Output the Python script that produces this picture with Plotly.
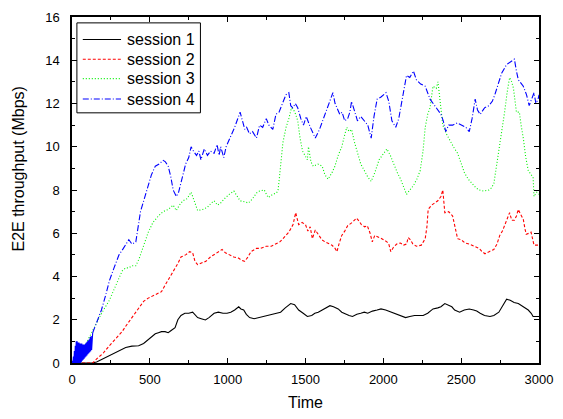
import plotly.graph_objects as go

# ---- session 1 (black, solid)
t1 = [0, 100, 130, 158, 200, 240, 280, 322, 345, 385, 428, 460, 490, 511, 535, 555, 575, 598, 618, 637, 662, 680, 700, 725, 750, 775, 790, 807, 830, 857, 880, 913, 940, 970, 996, 1020, 1045, 1071, 1085, 1103, 1120, 1141, 1170, 1200, 1229, 1260, 1290, 1311, 1340, 1370, 1405, 1430, 1456, 1485, 1512, 1540, 1560, 1582, 1610, 1635, 1657, 1680, 1710, 1733, 1760, 1780, 1802, 1830, 1855, 1878, 1900, 1930, 1960, 1985, 2015, 2048, 2070, 2100, 2120, 2143, 2170, 2200, 2230, 2256, 2285, 2319, 2350, 2370, 2395, 2420, 2440, 2458, 2475, 2490, 2520, 2552, 2580, 2600, 2622, 2650, 2685, 2710, 2742, 2765, 2792, 2815, 2840, 2867, 2900, 2931, 2950, 2962, 2994, 3000]
s1 = [0, 0, 0.0, 0.05, 0.2, 0.32, 0.5, 0.63, 0.72, 0.78, 0.8, 0.9, 1.08, 1.22, 1.35, 1.4, 1.45, 1.45, 1.4, 1.5, 1.63, 2.0, 2.2, 2.3, 2.3, 2.35, 2.25, 2.1, 2.05, 1.99, 2.1, 2.3, 2.35, 2.3, 2.3, 2.35, 2.45, 2.6, 2.5, 2.45, 2.25, 2.1, 2.05, 2.1, 2.15, 2.2, 2.25, 2.3, 2.35, 2.55, 2.75, 2.7, 2.45, 2.3, 2.15, 2.2, 2.3, 2.35, 2.45, 2.55, 2.65, 2.6, 2.5, 2.35, 2.25, 2.2, 2.15, 2.25, 2.3, 2.35, 2.3, 2.4, 2.45, 2.5, 2.45, 2.35, 2.3, 2.2, 2.15, 2.1, 2.15, 2.2, 2.2, 2.2, 2.3, 2.5, 2.55, 2.6, 2.75, 2.65, 2.6, 2.45, 2.4, 2.35, 2.45, 2.5, 2.45, 2.4, 2.3, 2.2, 2.15, 2.2, 2.35, 2.6, 2.95, 2.9, 2.8, 2.75, 2.6, 2.45, 2.3, 2.15, 2.15, 2.15]

# ---- session 2 (red, dashed)
t2 = [0, 60, 100, 133, 160, 200, 240, 280, 322, 345, 385, 428, 460, 490, 530, 555, 575, 598, 618, 650, 680, 700, 730, 756, 775, 790, 807, 840, 860, 889, 910, 935, 964, 985, 1010, 1040, 1070, 1090, 1109, 1130, 1150, 1185, 1210, 1248, 1280, 1311, 1335, 1355, 1375, 1393, 1420, 1437, 1456, 1478, 1500, 1515, 1530, 1544, 1563, 1585, 1605, 1626, 1650, 1670, 1690, 1702, 1715, 1733, 1752, 1771, 1800, 1828, 1845, 1859, 1880, 1897, 1915, 1929, 1945, 1960, 1990, 2023, 2035, 2048, 2065, 2086, 2110, 2130, 2149, 2160, 2174, 2190, 2212, 2244, 2269, 2280, 2288, 2310, 2332, 2350, 2370, 2382, 2395, 2420, 2445, 2460, 2477, 2500, 2525, 2552, 2585, 2616, 2635, 2653, 2680, 2710, 2730, 2748, 2765, 2779, 2795, 2811, 2825, 2842, 2855, 2867, 2880, 2899, 2910, 2918, 2935, 2949, 2960, 2968, 2994, 3000]
s2 = [0, 0, 0, 0.0, 0.2, 0.45, 0.8, 1.1, 1.45, 1.7, 2.1, 2.5, 2.85, 3.0, 3.15, 3.25, 3.3, 3.6, 3.85, 4.2, 4.6, 4.9, 5.0, 5.15, 5.1, 4.7, 4.55, 4.65, 4.7, 4.9, 5.0, 5.15, 5.25, 5.1, 5.0, 4.9, 4.85, 4.75, 4.7, 4.9, 5.15, 5.3, 5.3, 5.4, 5.4, 5.5, 5.6, 5.75, 5.9, 6.05, 6.4, 6.95, 6.4, 6.5, 6.4, 6.1, 6.3, 5.75, 6.15, 5.9, 5.7, 5.6, 5.5, 5.45, 5.3, 5.15, 5.5, 5.9, 6.1, 6.35, 6.5, 6.7, 6.55, 6.4, 6.3, 6.35, 6.0, 5.6, 5.9, 5.85, 5.75, 5.6, 5.5, 5.15, 5.35, 5.5, 5.55, 5.45, 5.5, 5.8, 5.7, 5.5, 5.4, 5.45, 5.75, 6.3, 7.1, 7.3, 7.4, 7.5, 7.7, 8.0, 6.95, 7.0, 6.8, 6.3, 5.75, 5.7, 5.55, 5.5, 5.4, 5.3, 5.15, 5.05, 5.15, 5.25, 5.5, 5.9, 6.1, 6.35, 6.7, 6.95, 6.6, 6.6, 6.8, 7.1, 6.9, 6.65, 6.2, 5.95, 6.0, 6.05, 5.7, 5.45, 5.45, 5.45]

# ---- session 3 (green, dotted)
t3 = [0, 30, 60, 90, 133, 160, 190, 215, 240, 270, 302, 322, 345, 365, 385, 410, 430, 447, 470, 490, 520, 555, 585, 618, 650, 670, 690, 712, 740, 765, 785, 807, 840, 870, 895, 913, 935, 955, 980, 1010, 1040, 1060, 1080, 1110, 1134, 1160, 1185, 1204, 1235, 1260, 1290, 1311, 1323, 1330, 1343, 1355, 1375, 1393, 1410, 1424, 1437, 1450, 1465, 1481, 1512, 1519, 1535, 1550, 1580, 1607, 1625, 1645, 1670, 1689, 1710, 1733, 1750, 1765, 1780, 1796, 1815, 1834, 1855, 1878, 1900, 1922, 1945, 1973, 2000, 2023, 2045, 2067, 2090, 2111, 2130, 2149, 2170, 2193, 2215, 2237, 2255, 2269, 2285, 2300, 2319, 2340, 2351, 2363, 2382, 2405, 2426, 2450, 2477, 2500, 2521, 2545, 2571, 2595, 2616, 2645, 2678, 2695, 2710, 2730, 2748, 2765, 2779, 2795, 2811, 2825, 2836, 2855, 2874, 2885, 2899, 2915, 2931, 2950, 2962, 2968, 2985, 2994, 3000]
s3 = [0, 0.3, 0.6, 0.9, 1.5, 1.9, 2.3, 2.6, 2.9, 3.4, 3.9, 4.25, 4.4, 4.4, 4.5, 4.5, 4.8, 5.15, 5.6, 6.05, 6.5, 6.8, 7.0, 7.1, 7.3, 7.05, 7.3, 7.5, 7.6, 7.9, 7.5, 7.05, 7.1, 7.2, 7.4, 7.5, 7.3, 7.4, 7.6, 7.8, 7.95, 7.7, 7.5, 7.45, 7.4, 7.6, 7.86, 7.95, 8.0, 7.65, 7.8, 7.86, 7.95, 8.4, 9.5, 10.2, 10.9, 11.3, 11.8, 11.7, 11.5, 11.2, 10.4, 9.8, 9.4, 10.0, 9.3, 9.1, 9.2, 9.1, 8.7, 8.5, 8.8, 9.1, 9.6, 10.0, 10.5, 10.9, 10.7, 10.8, 10.2, 9.7, 9.2, 8.9, 8.6, 8.4, 8.8, 9.4, 9.7, 9.9, 9.6, 9.2, 8.8, 8.5, 8.1, 7.8, 8.0, 8.2, 8.5, 8.9, 9.8, 10.9, 11.5, 11.8, 12.8, 12.7, 13.0, 12.2, 11.0, 10.6, 10.3, 10.0, 9.7, 9.2, 8.8, 8.5, 8.3, 8.1, 8.0, 7.95, 8.0, 8.1, 8.3, 9.2, 10.1, 10.9, 11.6, 12.5, 13.2, 13.0, 12.7, 11.6, 11.6, 11.0, 10.4, 9.5, 8.9, 8.7, 8.6, 7.7, 7.9, 7.86, 7.8]

# ---- session 4 (blue, dash-dot); fast oscillation during the first ~130 time units
t4_start = [0, 3, 6, 9, 12, 15, 18, 21, 24, 27, 30, 33, 36, 39, 42, 45, 48, 51, 54, 57, 60, 63, 66, 69, 72, 75, 78, 81, 84, 87, 90, 93, 96, 99, 102, 105, 108, 111, 114, 117, 120, 123, 126, 129, 131, 133]
s4_start = [0, 0.1, 0.0, 0.3, 0.0, 0.55, 0.0, 0.8, 0.0, 1.0, 0.0, 1.0, 0.0, 0.95, 0.0, 0.95, 0.0, 0.9, 0.0, 0.9, 0.05, 0.9, 0.1, 0.85, 0.15, 0.85, 0.2, 0.85, 0.25, 0.9, 0.3, 0.95, 0.35, 1.0, 0.4, 1.05, 0.45, 1.1, 0.5, 1.2, 0.55, 1.25, 0.6, 1.35, 0.7, 1.4]
t4 = [133, 160, 189, 215, 240, 270, 302, 330, 365, 385, 410, 440, 465, 490, 510, 535, 560, 586, 600, 618, 635, 650, 670, 685, 700, 715, 730, 750, 765, 780, 800, 815, 828, 850, 870, 890, 913, 932, 945, 955, 975, 990, 1010, 1027, 1045, 1060, 1080, 1095, 1110, 1122, 1140, 1160, 1185, 1205, 1225, 1248, 1265, 1290, 1310, 1330, 1350, 1374, 1393, 1405, 1418, 1435, 1450, 1470, 1487, 1505, 1531, 1545, 1563, 1590, 1610, 1626, 1650, 1676, 1690, 1702, 1720, 1735, 1752, 1771, 1785, 1796, 1815, 1834, 1855, 1878, 1900, 1922, 1940, 1960, 1985, 2017, 2035, 2055, 2080, 2099, 2120, 2149, 2170, 2193, 2212, 2240, 2269, 2300, 2320, 2338, 2370, 2385, 2401, 2420, 2445, 2475, 2508, 2530, 2552, 2570, 2590, 2605, 2622, 2650, 2678, 2700, 2716, 2740, 2760, 2792, 2815, 2842, 2855, 2867, 2899, 2920, 2937, 2950, 2968, 2980, 2994, 3000]
s4 = [1.4, 1.9, 2.45, 3.1, 3.8, 4.4, 5.0, 5.3, 5.7, 5.5, 5.6, 7.0, 7.6, 8.3, 8.7, 9.1, 9.2, 9.37, 9.3, 9.1, 8.6, 8.0, 7.7, 7.9, 8.3, 8.7, 9.2, 9.5, 10.0, 9.8, 9.6, 9.8, 9.4, 9.9, 9.6, 9.8, 9.7, 10.1, 9.6, 10.0, 9.5, 10.0, 10.3, 10.6, 10.9, 11.2, 11.6, 11.2, 10.8, 10.9, 10.6, 10.7, 10.4, 11.0, 10.9, 11.3, 11.0, 10.8, 11.5, 11.6, 12.0, 12.4, 12.5, 11.9, 11.8, 12.0, 11.8, 11.3, 11.0, 11.4, 10.9, 10.7, 10.4, 10.8, 11.2, 11.5, 12.0, 12.5, 12.0, 11.8, 11.5, 11.6, 11.2, 11.3, 11.6, 12.1, 11.7, 11.2, 11.4, 11.2, 11.0, 10.4, 11.4, 12.2, 12.3, 12.5, 12.1, 11.2, 10.9, 11.3, 12.2, 13.3, 13.2, 13.5, 13.1, 12.9, 12.8, 12.2, 12.0, 11.8, 11.5, 11.2, 10.7, 11.0, 11.0, 11.1, 11.0, 10.9, 10.7, 11.3, 12.2, 11.7, 11.5, 11.8, 11.9, 12.1, 12.4, 13.0, 13.4, 13.8, 13.9, 14.05, 13.5, 13.1, 12.8, 12.4, 11.9, 12.2, 12.5, 12.0, 12.2, 12.4]

names = ["session 1", "session 2", "session 3", "session 4"]
colors = ["#000000", "#ff0000", "#00f000", "#0000ff"]
dashes = ["solid", "3px,2px", "1px,2px", "6px,2px,1px,2px"]

FONT = "Liberation Sans, Arial"

fig = go.Figure()
for t, s, n, c, d in zip([t1, t2, t3, t4], [s1, s2, s3, s4], names, colors, dashes):
    fig.add_trace(go.Scatter(x=t, y=s, mode="lines", name=n, showlegend=False,
                             line=dict(color=c, width=1.1, dash=d)))
# the dense start-up oscillation of session 4 reads as a solid blue patch
fig.add_trace(go.Scatter(x=t4_start, y=s4_start, mode="lines", name="session 4", showlegend=False,
                         line=dict(color=colors[3], width=1.1)))

axis_common = dict(showline=True, linecolor="black", linewidth=1.5, mirror="allticks",
                   ticks="inside", ticklen=5, tickwidth=1, tickcolor="black",
                   showgrid=False, zeroline=False,
                   tickfont=dict(family=FONT, size=13, color="black"))

# legend box drawn in the plot's paper coordinates (rows 20 px apart, as in the reference)
shapes = [dict(type="rect", xref="paper", yref="paper", x0=0.0105, x1=0.275, y0=0.723, y1=0.983,
               line=dict(color="black", width=1), fillcolor="white", layer="above")]
annotations = []
row_y = [0.935, 0.878, 0.822, 0.763]
for n, c, d, yy in zip(names, colors, dashes, row_y):
    shapes.append(dict(type="line", xref="paper", yref="paper", x0=0.0231, x1=0.105, y0=yy, y1=yy,
                       line=dict(color=c, width=1.1, dash=d), layer="above"))
    annotations.append(dict(xref="paper", yref="paper", x=0.113, y=yy, text=n, showarrow=False,
                            xanchor="left", yanchor="middle",
                            font=dict(family=FONT, size=16, color="black")))

# y-axis title (sits a little above the plot centre in the reference)
annotations.append(dict(xref="paper", yref="paper", x=-0.1135, y=0.562, text="E2E throughput (Mbps)",
                        textangle=-90, showarrow=False, xanchor="center", yanchor="middle",
                        font=dict(family=FONT, size=16, color="black")))

fig.update_layout(
    width=563, height=419,
    margin=dict(l=72, r=15, t=10, b=55),
    paper_bgcolor="white", plot_bgcolor="white",
    font=dict(family=FONT, color="black"),
    xaxis=dict(range=[0, 3000], dtick=500, tick0=0, ticklabelstandoff=4,
               minor=dict(dtick=250, ticks="inside", ticklen=3, tickcolor="black"),
               title=dict(text="Time", font=dict(size=16), standoff=10),
               **axis_common),
    yaxis=dict(range=[0, 16], dtick=2, tick0=0, ticklabelstandoff=8,
               minor=dict(dtick=1, ticks="inside", ticklen=3, tickcolor="black"),
               **axis_common),
    shapes=shapes,
    annotations=annotations,
    showlegend=False,
)

fig.write_html("out.html")
